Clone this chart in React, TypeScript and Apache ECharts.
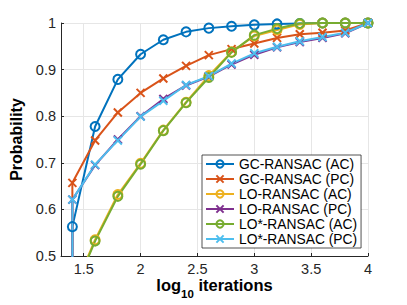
import React, { useEffect, useRef } from "react";
import * as echarts from "echarts";

const xs = [1.4, 1.6, 1.8, 2.0, 2.2, 2.4, 2.6, 2.8, 3.0, 3.2, 3.4, 3.6, 3.8, 4.0];
const gcAC = [0.563, 0.778, 0.879, 0.933, 0.964, 0.981, 0.989, 0.993, 0.996, 0.998, 0.999, 1, 1, 1];
const gcPC = [0.657, 0.748, 0.808, 0.85, 0.881, 0.908, 0.931, 0.944, 0.956, 0.968, 0.976, 0.979, 0.984, 1];
const loAC = [0.42, 0.535, 0.632, 0.699, 0.77, 0.83, 0.887, 0.938, 0.972, 0.985, 0.997, 1, 1, 1];
const loPC = [0.621, 0.695, 0.75, 0.8, 0.837, 0.866, 0.885, 0.911, 0.932, 0.948, 0.959, 0.968, 0.978, 1];
const loStarAC = [0.416, 0.532, 0.628, 0.697, 0.769, 0.829, 0.883, 0.937, 0.974, 0.988, 0.999, 1, 1, 1];
const loStarPC = [0.621, 0.696, 0.748, 0.799, 0.833, 0.867, 0.886, 0.913, 0.935, 0.949, 0.961, 0.97, 0.979, 1];
const startValue = 0;

const seriesNames = [
  "GC-RANSAC (AC)",
  "GC-RANSAC (PC)",
  "LO-RANSAC (AC)",
  "LO-RANSAC (PC)",
  "LO*-RANSAC (AC)",
  "LO*-RANSAC (PC)",
];
const seriesValues = [gcAC, gcPC, loAC, loPC, loStarAC, loStarPC];
const seriesColors = ["#0072BD", "#D95319", "#EDB120", "#7E2F8E", "#77AC30", "#4DBEEE"];
const seriesMarkers = ["o", "x", "o", "x", "o", "x"];

const xTicks = [1.5, 2, 2.5, 3, 3.5, 4];

const FONT = "Liberation Sans, Arial, Helvetica, sans-serif";
const CROSS = "path://M0 0L10 10M10 0L0 10";

export default function App() {
  const ref = useRef<HTMLDivElement>(null);
  useEffect(() => {
    if (!ref.current) return;
    const chart = echarts.init(ref.current, null, { renderer: "svg" });
    const series = seriesNames.map((name, i) => {
      const c = seriesColors[i];
      const isCircle = seriesMarkers[i] === "o";
      return {
        name,
        type: "line",
        clip: true,
        showAllSymbol: true,
        symbol: isCircle ? "circle" : CROSS,
        symbolSize: isCircle ? 9 : 8,
        lineStyle: { color: c, width: 2 },
        itemStyle: { color: isCircle ? "rgba(0,0,0,0)" : c, borderColor: c, borderWidth: 2 },
        emphasis: { disabled: true },
        data: [[xs[0], startValue], ...xs.map((x, j) => [x, seriesValues[i][j]])],
      };
    });
    chart.setOption({
      animation: false,
      backgroundColor: "#ffffff",
      textStyle: { fontFamily: FONT },
      grid: { left: 53, right: 39, top: 23, bottom: 48, containLabel: false },
      legend: {
        orient: "vertical",
        left: 202,
        top: 155,
        width: 156,
        backgroundColor: "#ffffff",
        borderColor: "#262626",
        borderWidth: 0.8,
        borderRadius: 0,
        padding: [2, 4, 2, 3],
        itemGap: 1,
        itemWidth: 28,
        itemHeight: 9,
        itemTextGap: 3,
        textStyle: { fontFamily: FONT, fontSize: 13.8, color: "#000000", lineHeight: 13.5 },
        data: seriesNames,
      },
      xAxis: {
        type: "value",
        min: 1.3,
        max: 4,
        name: "{a|log}{s|10}{a| iterations}",
        nameLocation: "middle",
        nameGap: 20,
        nameMoveOverlap: false,
        nameTextStyle: {
          rich: {
            a: { fontFamily: FONT, fontSize: 16.5, fontWeight: "bold", color: "#000", verticalAlign: "top" },
            s: { fontFamily: FONT, fontSize: 11.5, fontWeight: "bold", color: "#000", verticalAlign: "bottom", padding: [12, 0, 0, 0] },
          },
        },
        axisLine: { show: true, onZero: false, lineStyle: { color: "#262626", width: 1 } },
        axisTick: { show: true, inside: true, length: 3, customValues: xTicks, lineStyle: { color: "#262626" } },
        axisLabel: {
          customValues: xTicks,
          color: "#262626",
          fontFamily: FONT,
          fontSize: 14.5,
          margin: 5,
          formatter: (v: number) => String(v),
        },
        splitLine: { show: true, lineStyle: { color: "#e6e6e6", width: 1 } },
      },
      yAxis: {
        type: "value",
        min: 0.5,
        max: 1,
        interval: 0.1,
        name: "Probability",
        nameLocation: "middle",
        nameGap: 37,
        nameMoveOverlap: false,
        nameTextStyle: { fontFamily: FONT, fontSize: 16, fontWeight: "bold", color: "#000" },
        axisLine: { show: true, onZero: false, lineStyle: { color: "#262626", width: 1 } },
        axisTick: { show: true, inside: true, length: 3, lineStyle: { color: "#262626" } },
        axisLabel: {
          color: "#262626",
          fontFamily: FONT,
          fontSize: 14.5,
          margin: 5,
          formatter: (v: number) => String(Math.round(v * 10) / 10),
        },
        splitLine: { show: true, lineStyle: { color: "#e6e6e6", width: 1 } },
      },
      series,
    });
    return () => chart.dispose();
  }, []);
  return <div ref={ref} style={{ width: 407, height: 305, position: "absolute", left: 0, top: 0 }} />;
}
